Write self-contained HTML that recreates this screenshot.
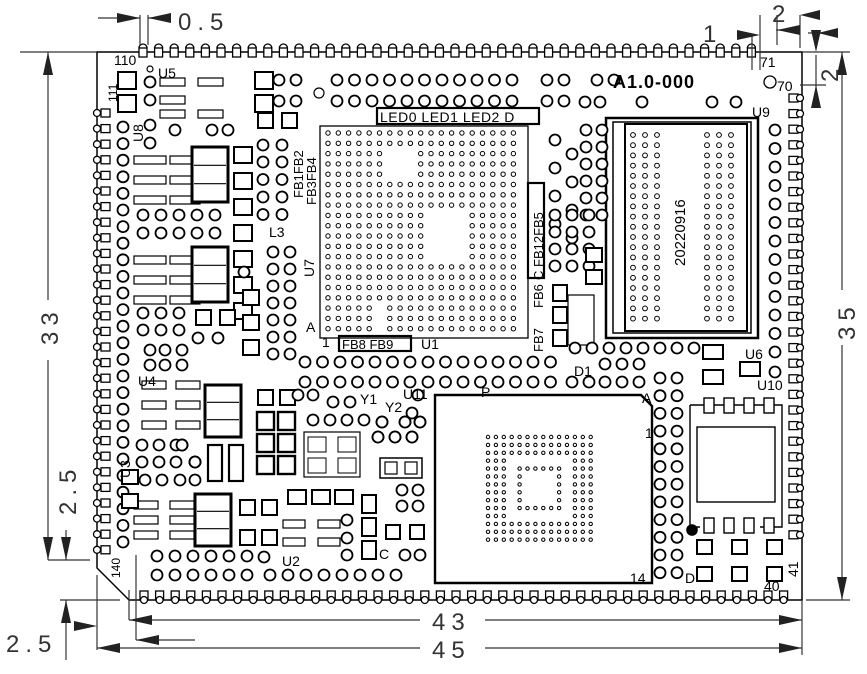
<!DOCTYPE html>
<html><head><meta charset="utf-8"><style>
html,body{margin:0;padding:0;background:#fff}
svg{display:block}
text{font-family:"Liberation Sans",sans-serif;fill:#000}
.d{fill:#333;font-size:24px;letter-spacing:6px}
</style></head><body>
<svg id="s" width="867" height="674" viewBox="0 0 867 674" xmlns="http://www.w3.org/2000/svg">
<g fill="none" stroke="#000" stroke-width="1.6" id="g">
<path d="M97 52 H802 V600 H129 L97 568 Z" stroke-width="1.5"/>
<rect x="320" y="126" width="208" height="212" stroke-width="1.3"/>
<rect x="377" y="108" width="162" height="16" stroke-width="2.2"/>
<rect x="606" y="118" width="152" height="220" stroke-width="2.5"/>
<rect x="613" y="122" width="138" height="211" stroke-width="1.5"/>
<rect x="625" y="124" width="122" height="207" stroke-width="2"/>
<path d="M435 395 H641 L652 406 V583 H435 Z" stroke-width="2.4"/>
<path d="M690 405 H782 V527 H760 M690 405 V527 H700" stroke-width="1.4"/>
<rect x="697" y="427" width="78" height="75" stroke-width="1.4"/>
<rect x="339" y="336" width="72" height="15" stroke-width="2.2"/>
<rect x="528" y="183" width="16" height="95" stroke-width="2.2"/>
</g>
<g id="dims" fill="none" stroke="#333" stroke-width="1.2">
<line x1="20" y1="52" x2="97" y2="52"/>
<line x1="48" y1="52" x2="48" y2="300"/><line x1="48" y1="360" x2="48" y2="560"/>
<line x1="48" y1="560" x2="90" y2="560"/>
<line x1="66" y1="530" x2="66" y2="560"/>
<line x1="66" y1="600" x2="66" y2="660"/>
<line x1="60" y1="600" x2="120" y2="600"/>
<line x1="97" y1="575" x2="97" y2="650"/>
<line x1="129" y1="590" x2="129" y2="620"/>
<line x1="136" y1="555" x2="136" y2="640"/>
<line x1="129" y1="620" x2="420" y2="620"/><line x1="485" y1="620" x2="802" y2="620"/>
<line x1="97" y1="648" x2="420" y2="648"/><line x1="485" y1="648" x2="802" y2="648"/>
<line x1="136" y1="640" x2="195" y2="640"/>
<line x1="802" y1="600" x2="802" y2="655"/>
<line x1="802" y1="52" x2="850" y2="52"/><line x1="806" y1="600" x2="850" y2="600"/>
<line x1="842" y1="52" x2="842" y2="290"/><line x1="842" y1="345" x2="842" y2="600"/>
<line x1="800" y1="85" x2="826" y2="85"/>
<line x1="816" y1="55" x2="816" y2="100"/>
<line x1="808" y1="33" x2="837" y2="33"/>
<line x1="760" y1="15" x2="760" y2="70"/>
<line x1="777" y1="15" x2="777" y2="45"/><line x1="776" y1="30" x2="800" y2="30"/>
<line x1="800" y1="15" x2="800" y2="48"/>
<line x1="752" y1="35" x2="752" y2="70"/>
<line x1="140" y1="15" x2="140" y2="45"/><line x1="148" y1="15" x2="148" y2="45"/>
<line x1="98" y1="18" x2="140" y2="18"/><line x1="148" y1="18" x2="165" y2="18"/>
</g>
<g id="arrows" fill="#222">
<polygon points="48,52 43,75 53,75"/>
<polygon points="48,560 43,537 53,537"/>
<polygon points="66,560 61,537 71,537"/>
<polygon points="66,600 61,623 71,623"/>
<polygon points="842,52 837,75 847,75"/>
<polygon points="842,600 837,577 847,577"/>
<polygon points="129,620 152,615 152,625"/>
<polygon points="802,620 779,615 779,625"/>
<polygon points="97,648 120,643 120,653"/>
<polygon points="802,648 779,643 779,653"/>
<polygon points="136,640 159,635 159,645"/>
<polygon points="97,626 74,621 74,631"/>
<polygon points="140,18 117,13 117,23"/><polygon points="148,18 171,13 171,23"/>
<polygon points="760,35 737,30 737,40"/><polygon points="777,30 800,25 800,35"/>
<polygon points="800,15 820,10 820,20"/><polygon points="818,33 838,28 838,38"/>
<polygon points="816,52 811,30 821,30"/><polygon points="816,85 811,108 821,108"/>
</g>
<g id="txt">
<text class="d" x="178" y="30">0.5</text>
<text class="d" x="703" y="42" font-size="20">1</text>
<text class="d" x="772" y="22" font-size="20">2</text>
<text class="d" transform="translate(838,82) rotate(-90)" font-size="20">2</text>
<text class="d" transform="translate(58,345) rotate(-90)">33</text>
<text class="d" transform="translate(855,340) rotate(-90)">35</text>
<text class="d" transform="translate(76,515) rotate(-90)">2.5</text>
<text class="d" x="6" y="652">2.5</text>
<text class="d" x="432" y="630">43</text>
<text class="d" x="432" y="658">45</text>
<text x="613" y="88" font-size="18" font-weight="bold" letter-spacing="1">A1.0-000</text>
<text x="380" y="122" font-size="14" letter-spacing="0.5">LED0 LED1 LED2 D</text>
<text x="342" y="349" font-size="13">FB8 FB9</text>
<text transform="translate(685,266) rotate(-90)" font-size="15">20220916</text>
<text transform="translate(543,280) rotate(-90)" font-size="13">C FB12FB5</text>
<text transform="translate(543,308) rotate(-90)" font-size="13">FB6</text>
<text transform="translate(543,352) rotate(-90)" font-size="13">FB7</text>
<text transform="translate(303,198) rotate(-90)" font-size="13">FB1FB2</text>
<text transform="translate(316,205) rotate(-90)" font-size="13">FB3FB4</text>
<text transform="translate(314,277) rotate(-90)" font-size="14">U7</text>
<text transform="translate(143,142) rotate(-90)" font-size="14">U8</text>
<text transform="translate(130,478) rotate(-90)" font-size="14">U3</text>
<text transform="translate(117,102) rotate(-90)" font-size="12">111</text>
<text transform="translate(120,578) rotate(-90)" font-size="12">140</text>
<text transform="translate(798,577) rotate(-90)" font-size="14">41</text>
<g font-size="14">
<text x="114" y="65">110</text><text x="158" y="78">U5</text>
<text x="269" y="237">L3</text><text x="306" y="332">A</text><text x="322" y="347">1</text>
<text x="421" y="349">U1</text><text x="403" y="399">U11</text>
<text x="360" y="404">Y1</text><text x="385" y="412">Y2</text>
<text x="138" y="386">U4</text><text x="282" y="566">U2</text>
<text x="379" y="559">C</text><text x="574" y="376">D1</text>
<text x="745" y="359">U6</text><text x="757" y="390">U10</text>
<text x="752" y="117">U9</text><text x="764" y="591">40</text>
<text x="685" y="583">D</text><text x="760" y="67">71</text>
<text x="777" y="91">70</text><text x="481" y="397">P</text>
<text x="630" y="583">14</text><text x="642" y="403">A</text>
<text x="645" y="438">1</text>
</g>
</g>
</svg>
<script>
(function(){
var NS="http://www.w3.org/2000/svg",g=document.getElementById('g');
function el(t,a){var e=document.createElementNS(NS,t);for(var k in a)e.setAttribute(k,a[k]);g.appendChild(e);return e;}
function C(x,y,r,sw,f){el('circle',{cx:x,cy:y,r:r||5.5,'stroke-width':sw||1.8,fill:f||'#fff'});}
function R(x,y,w,h,sw){el('rect',{x:x,y:y,width:w,height:h,'stroke-width':sw||2,fill:'#fff'});}
var p=15.6,i,j;
for(i=0;i<42;i++){var x=143+i*p;if(x>760)break;R(x-4,48,8,9,1.3);el('path',{d:'M'+(x-4)+' 48 A4 4 0 0 1 '+(x+4)+' 48','stroke-width':1.3});}
for(i=0;i<42;i++){var x=144+i*p;if(x>797)break;R(x-4,591,8,9,1.3);C(x,600,3.5,1.3);}
for(i=0;i<29;i++){var y=113+i*p;if(y>560)break;R(101,y-4,9,8,1.3);C(97,y,3.5,1.3);}
for(i=0;i<30;i++){var y=98+i*p;if(y>548)break;R(789,y-4,9,8,1.3);C(800,y,3.5,1.3);}
for(i=0;i<20;i++)for(j=0;j<20;j++){var cx=328+i*10.3,cy=133+j*10.3;if(cx>522||cy>332)continue;
 var skip=((i>=6&&i<=8)&&(j>=2&&j<=4))||((i>=10&&i<=13)&&(j>=8&&j<=12))||(i==5&&j>16);
 if(!skip)C(cx,cy,2.2,1);}
for(j=0;j<19;j++){var y=135+j*10.2;[633,645,657,707,719,731].forEach(function(x){C(x,y,2.4,1);});}
for(i=0;i<14;i++)for(j=0;j<14;j++){var ri=Math.min(i,j,13-i,13-j);if(ri<=2||ri==4)C(488+i*7.9,437+j*7.9,1.7,1);}
for(i=0;i<11;i++){var x=337+i*17.5;C(x,80);C(x,101);}
for(i=0;i<3;i++){var x=262+i*17;C(x,80);C(x,101);}
[547,564].forEach(function(x){C(x,80);C(x,101);});
[597,614].forEach(function(x){C(x,80);});
[585,600,642,712,736].forEach(function(x){C(x,102);});
C(319,93,5,1.2);C(770,82,6,1.3);C(150,69,3,1.2);
for(j=0;j<12;j++)C(775,130+j*18.5);
for(j=0;j<8;j++){C(555+(j%2)*17,140+j*14);}
for(j=0;j<6;j++){C(586,130+j*17);C(602,130+j*17);}
for(j=0;j<4;j++){C(555,215+j*17);C(572,215+j*17);C(589,215+j*17);}
R(586,248,16,14);R(586,270,16,14);
R(553,285,14,16);R(553,307,14,16);R(553,330,14,16);
R(568,295,26,50,1.2);
for(i=0;i<7;i++){var x=305+i*17.5;C(x,362);C(x,382);}
for(i=0;i<8;i++){var x=428+i*17.5;C(x,362);C(x,382);}
for(i=0;i<8;i++){var x=575+i*17;C(x,348);}
for(i=0;i<3;i++){C(605+i*17,364);C(605+i*17,382);}
C(572,382);C(589,382);
for(j=0;j<12;j++){C(660,378+j*17.7);C(677,378+j*17.7);}
for(i=0;i<4;i++){R(704+i*20,398,10,15,1.4);R(704+i*20,518,10,15,1.4);}
el('circle',{cx:692,cy:530,r:5,fill:'#000'});
for(i=0;i<3;i++){R(697+i*35,540,15,14);R(697+i*35,567,15,14);}
R(703,345,20,14);R(703,370,20,14);R(740,362,20,14);C(775,352);C(775,372);
for(j=0;j<26;j++)C(123,127+j*16.6);
R(118,72,18,17);R(118,95,18,17);R(255,72,18,17);R(255,95,18,17);
for(i=0;i<2;i++){C(150,82+i*18);}
R(160,78,25,8,1.2);R(160,96,25,8,1.2);R(160,110,25,8,1.2);R(198,78,25,8,1.2);R(198,110,25,8,1.2);
C(150,125);C(150,143);C(175,130);C(212,130);C(228,130);
R(258,113,15,15);R(282,113,15,15);C(263,145);C(282,145);
for(j=0;j<4;j++){C(263,162+j*17.5);C(282,162+j*17.5);}
for(j=0;j<7;j++)R(234,147+j*26,18,16);
[160,180,200].forEach(function(y){R(134,y-4,32,8,1.2);R(170,y-4,30,8,1.2);});
[260,280,300].forEach(function(y){R(134,y-4,32,8,1.2);R(170,y-4,30,8,1.2);});
[385,405,425].forEach(function(y){R(142,y-4,24,8,1.2);R(176,y-4,24,8,1.2);});
[505,520,535].forEach(function(y){R(134,y-4,24,8,1.2);R(170,y-4,24,8,1.2);});
for(i=0;i<5;i++){C(143+i*18,215);C(143+i*18,233);}
for(i=0;i<3;i++){C(143+i*18,313);C(143+i*18,330);}
for(j=0;j<7;j++){C(273,252+j*17);C(290,252+j*17);}
R(243,290,16,15);R(243,315,16,15);R(243,340,16,15);C(244,272);
R(196,310,15,15);R(220,310,15,15);C(198,338);C(218,338);
C(150,350);C(165,350);C(182,350);C(150,365);C(165,365);C(182,365);
for(j=0;j<3;j++){C(142+j*17,445);C(142+j*17,462);C(182,445);C(195,462);}
C(145,480);C(162,480);C(180,480);C(195,480);
for(i=0;i<6;i++){C(157+i*18,556);C(157+i*18,575);}
for(i=0;i<8;i++){C(270+i*18,575);}
C(264,557);C(347,520);C(347,538);C(347,555);
R(258,390,15,15);R(280,390,15,15);C(298,395);C(313,395);
for(i=0;i<2;i++)for(j=0;j<3;j++)R(257+i*21,412+j*22,17,18,2.4);
R(208,445,14,36,2.2);R(229,445,14,36,2.2);
R(304,432,56,45,1.2);R(308,437,18,15,1);R(338,437,18,15,1);R(308,458,18,15,1);R(338,458,18,15,1);
R(380,458,42,20,1.5);R(385,462,12,12,1.2);R(405,462,12,12,1.2);
R(288,490,18,14);R(312,490,18,14);R(335,490,18,14);
R(362,495,14,18);R(362,518,14,18);R(362,541,14,18);
for(j=0;j<2;j++){C(402,490+j*16);C(418,490+j*16);}
R(386,525,14,14);R(410,525,14,14);C(405,555);C(420,555);
R(240,500,15,15);R(262,500,15,15);R(240,530,15,15);R(262,530,15,15);
R(283,520,22,8,1.2);R(283,538,22,8,1.2);R(318,520,22,8,1.2);R(318,538,22,8,1.2);
for(j=0;j<2;j++){C(313+j*17,420);C(347+j*17,420);C(378,437);C(395,437);C(412,437);C(382,422);C(405,422);C(420,422);}
C(333,402);C(350,402);C(412,413);C(418,395);
R(122,470,16,14);R(122,494,16,14);
// big inductors last
[[192,147,36,55],[192,247,36,55],[205,385,36,52],[195,494,36,52]].forEach(function(b){
 R(b[0],b[1],b[2],b[3],3);
 el('line',{x1:b[0]+2,y1:b[1]+b[3]/3,x2:b[0]+b[2]-2,y2:b[1]+b[3]/3,'stroke-width':1.2});
 el('line',{x1:b[0]+2,y1:b[1]+2*b[3]/3,x2:b[0]+b[2]-2,y2:b[1]+2*b[3]/3,'stroke-width':1.2});
});
})();
</script>
</body></html>
